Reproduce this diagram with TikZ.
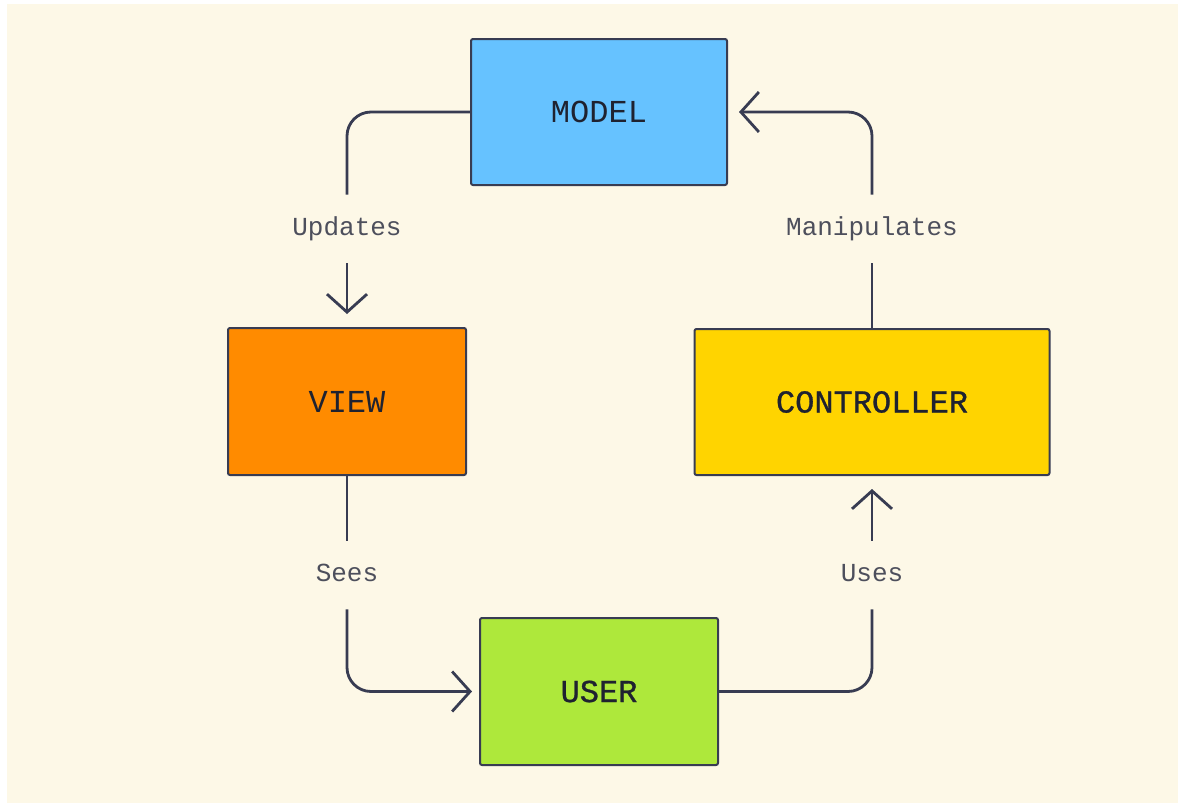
\documentclass[tikz,border=0pt]{standalone}
\usepackage{fontspec}
\setmonofont{Liberation Mono}
\newfontfamily\boxmedium[FakeBold=0.9]{Liberation Mono}
\usetikzlibrary{arrows.meta}
\definecolor{paper}{HTML}{FDF8E7}
\definecolor{ink}{HTML}{383C52}
\definecolor{boxtext}{HTML}{1F2230}
\definecolor{lbltext}{HTML}{4D4F5C}
\definecolor{modelblue}{HTML}{66C2FF}
\definecolor{vieworange}{HTML}{FF8B00}
\definecolor{ctrlyellow}{HTML}{FFD400}
\definecolor{usergreen}{HTML}{AEE83B}

\begin{document}
\begin{tikzpicture}[x=0.5pt, y=-0.5pt,
		box/.style={draw=ink, line width=1pt, rounded corners=1pt, inner sep=0pt,
			font=\fontsize{16}{18}\selectfont\ttfamily, text=boxtext},
		lbl/.style={font=\fontsize{13}{15}\selectfont\ttfamily, text=lbltext,
			inner xsep=0pt, inner ysep=11pt, text height=9pt, text depth=3pt},
		link/.style={draw=ink, line width=1.4pt, rounded corners=12pt},
		arr/.style={link, -{Straight Barb[length=9pt, width=20pt, line width=1.4pt]}}]
			%%%%% START %%%%%
			
			\fill[white] (0, 0) rectangle (1178, 803);
			\fill[paper] (7, 4) rectangle (1178, 803);
			
			\node[box, fill=modelblue, minimum width=128pt, minimum height=73pt] (model) at (599, 112) {MODEL};
			\node[box, fill=vieworange, minimum width=119pt, minimum height=73.5pt] (view) at (347, 401.5) {VIEW};
			\node[box, fill=ctrlyellow, minimum width=177.5pt, minimum height=73pt, font=\fontsize{16}{18}\selectfont\boxmedium] (ctrl) at (872, 402) {CONTROLLER};
			\node[box, fill=usergreen, minimum width=119pt, minimum height=73.5pt, font=\fontsize{16}{18}\selectfont\boxmedium] (user) at (599, 691.5) {USER};
			
			\node[lbl] (upd) at (347, 229) {Updates};
			\node[lbl] (manip) at (872, 229) {Manipulates};
			\node[lbl] (sees) at (347, 575) {Sees};
			\node[lbl] (uses) at (872, 575) {Uses};
			
			\draw[link] (model.west) -| (upd.north);
			\draw[arr, shorten >=6.5pt] (upd.south) -- (upd.south |- view.north);
			
			\draw[link] (ctrl.north) -- (manip.south);
			\draw[arr, shorten >=5.5pt] (manip.north) |- (model.east);
			
			\draw[link] (view.south) -- (sees.north);
			\draw[arr, shorten >=3.5pt] (sees.south) |- (user.west);
			
			\draw[link] (user.east) -| (uses.south);
			\draw[arr, shorten >=6.5pt] (uses.north) -- (uses.north |- ctrl.south);
			
			%%%%% END %%%%%
\end{tikzpicture}
\end{document}
